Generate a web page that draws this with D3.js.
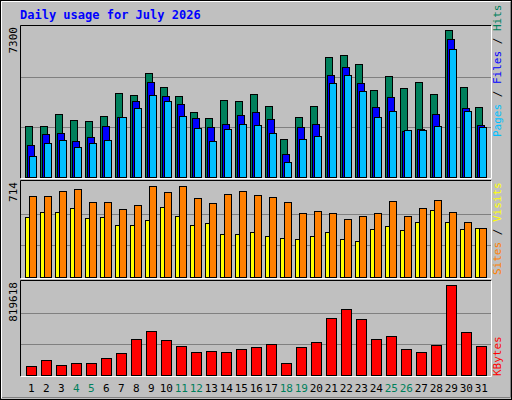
<!DOCTYPE html>
<html><head><meta charset="utf-8">
<script src="https://cdn.jsdelivr.net/npm/d3@7"></script>
<style>body{margin:0;background:#fff}svg{display:block}</style>
</head><body><svg id="c" width="512" height="400"></svg>
<script>
const days = d3.range(1,32);
const weekend = [4,5,11,12,18,19,25,26];
const hits = [2499,2499,3079,2789,2741,2983,4094,3998,5076,4384,3949,3176,2886,3756,3708,4046,3466,1871,2934,3466,5835,5931,5496,4239,4916,4336,4626,4046,7140,4384,3418];
const files = [1581,2112,2161,1774,1967,2499,2934,3708,4626,3949,3563,2886,2451,2596,3031,3176,2838,1097,2451,2596,4964,5351,4578,3418,3901,2257,2354,3079,6705,3369,2548];
const pages = [1001,1677,1822,1436,1677,1822,2934,3369,3998,3708,2983,2403,1774,2354,2596,2548,2161,711,1871,2016,4578,4965,4191,2934,3224,2306,2306,2499,6221,3224,2451];
const sites = [609,609,645,660,565,565,513,542,682,638,682,594,557,623,645,616,601,565,484,498,484,439,461,484,572,461,520,579,491,410,366];
const visits = [454,491,491,520,447,454,388,388,425,528,461,388,403,322,322,336,307,292,285,307,336,285,270,358,380,351,417,506,417,358,366];
const kbytes = [83700,135500,92300,109600,109600,152700,195900,316700,385700,308000,256300,204500,213100,204500,230400,247600,273500,109600,247600,290800,506500,584100,497800,316700,342500,230400,204500,264900,791200,377000,256300];
const maxHits = 7300, maxSites = 714, maxKB = 819618;

const svg = d3.select("#c");
const F = "'DejaVu Sans Mono', monospace";
svg.append("rect").attr("width",512).attr("height",400).attr("fill","#c0c0c0");
svg.append("rect").attr("x",0.5).attr("y",0.5).attr("width",511).attr("height",399).attr("fill","none").attr("stroke","#000");
svg.append("path").attr("d","M1.5,398V1.5H510").attr("stroke","#fff").attr("fill","none");
svg.append("path").attr("d","M2,397.5H510.5V2").attr("stroke","#808080").attr("fill","none");
svg.append("text").attr("x",20).attr("y",19).attr("fill","#0000ff").attr("font-family",F).attr("font-weight","bold").attr("font-size",12).text("Daily usage for July 2026");

const x = d3.scaleLinear().domain([1,32]).range([25.3,25.3+15*31]);
const L = 20, R = 491;
function panel(top, bot, max){
  const y = d3.scaleLinear().domain([0,max]).range([bot, top+2]);
  svg.append("rect").attr("x",L).attr("y",top).attr("width",R-L).attr("height",bot-top+1).attr("fill","#c0c0c0");
  [1/3,2/3].forEach(f=>svg.append("line").attr("x1",L).attr("x2",R).attr("y1",Math.round(y(max*f))+0.5).attr("y2",Math.round(y(max*f))+0.5).attr("stroke","#808080"));
  svg.append("path").attr("d",`M${L+0.5},${bot+1}V${top+0.5}H${R}`).attr("stroke","#000").attr("fill","none");
  svg.append("path").attr("d",`M${L+1},${bot+1.5}H${R+0.5}V${top+1}`).attr("stroke","#fff").attr("fill","none");
  svg.append("text").attr("transform",`translate(17,${top+2}) rotate(-90)`).attr("text-anchor","end").attr("font-family",F).attr("font-size",11).text(max);
  return y;
}
function bars(data, y, off, w, color){
  svg.append("g").selectAll("rect").data(data).join("rect")
    .attr("x",(d,i)=>Math.round(x(i+1)+off)+0.5).attr("width",w)
    .attr("y",d=>Math.round(y(d))+0.5).attr("height",d=>Math.max(0,y(0)-Math.round(y(d))))
    .attr("fill",color).attr("stroke","#000");
}
const y1 = panel(25,177,maxHits);
bars(hits,y1,0,7,"#00805c");
bars(files,y1,2,7,"#0000ff");
bars(pages,y1,4,7,"#00c0ff");
const y2 = panel(180,277,maxSites);
bars(visits,y2,0,4,"#ffff00");
bars(sites,y2,4,7,"#ff8000");
const y3 = panel(280,375,maxKB);
bars(kbytes,y3,1,10,"#ff0000");

svg.append("g").selectAll("text").data(days).join("text")
  .attr("x",d=>x(d)+6).attr("y",392).attr("text-anchor","middle")
  .attr("font-family",F).attr("font-size",11)
  .attr("fill",d=>weekend.includes(d)?"#00805c":"#000").text(d=>d);

function rlabel(yBottom, parts){
  const t = svg.append("text").attr("transform",`translate(501,${yBottom}) rotate(-90)`).attr("font-family",F).attr("font-size",11);
  parts.forEach(([s,c])=>t.append("tspan").attr("fill",c).text(s));
}
rlabel(137,[["Pages","#00c0ff"],[" / ","#000"],["Files","#0000ff"],[" / ","#000"],["Hits","#00805c"]]);
rlabel(275,[["Sites","#ff8000"],[" / ","#000"],["Visits","#ffff00"]]);
rlabel(376,[["KBytes","#ff0000"]]);
</script></body></html>
